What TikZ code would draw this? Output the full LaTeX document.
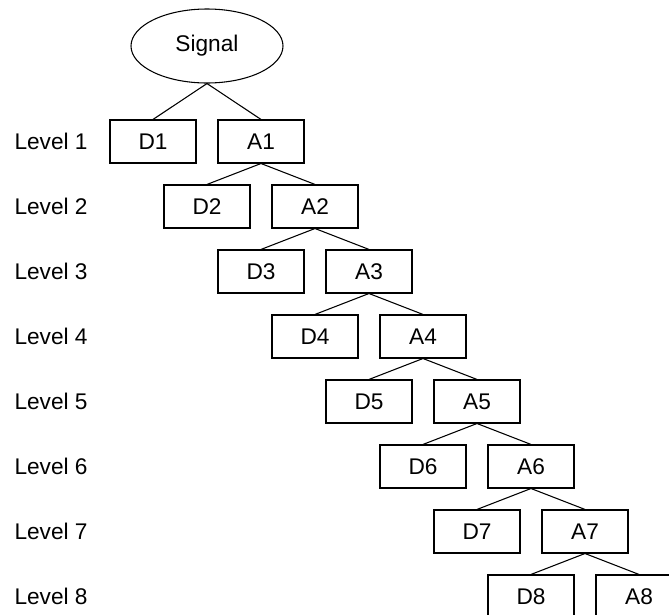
\documentclass[tikz,border=0pt]{standalone}
\usepackage{fontspec}
\setmainfont{Liberation Sans}
\usetikzlibrary{shapes.geometric}
\begin{document}
\begin{tikzpicture}[x=0.75pt,y=0.75pt,line width=0.8pt,
  sibling distance=81pt,
  level/.style={level distance=48.75pt},
  level 1/.style={level distance=71.6pt},% Signal sits higher
  edge from parent path={(\tikzparentnode.south) -- (\tikzchildnode.north)},
  every node/.style={font=\fontsize{17}{20}\selectfont},
  band/.style={draw,minimum width=64.5pt,minimum height=32.25pt,inner sep=0pt},
  sig/.style={draw,ellipse,minimum width=114pt,minimum height=55.5pt,inner sep=0pt},
  lvl/.style={anchor=west,inner sep=0pt}]
\useasboundingbox (0,0) rectangle (669,-615);
\node [sig] (sig) at (207,-46) {Signal}
child {node [band] (d1) {D1}}
child {node [band] (a1) {A1}
  child {node [band] (d2) {D2}}
  child {node [band] (a2) {A2}
    child {node [band] (d3) {D3}}
    child {node [band] (a3) {A3}
      child {node [band] (d4) {D4}}
      child {node [band] (a4) {A4}
        child {node [band] (d5) {D5}}
        child {node [band] (a5) {A5}
          child {node [band] (d6) {D6}}
          child {node [band] (a6) {A6}
            child {node [band] (d7) {D7}}
            child {node [band] (a7) {A7}
              child {node [band] (d8) {D8}}
              child {node [band] (a8) {A8}}
            }
          }
        }
      }
    }
  }
};
\coordinate (lx) at (14,0);
\foreach \i in {1,...,8}
  \node [lvl] (l\i) at (d\i -| lx) {Level \i};
\end{tikzpicture}
\end{document}
